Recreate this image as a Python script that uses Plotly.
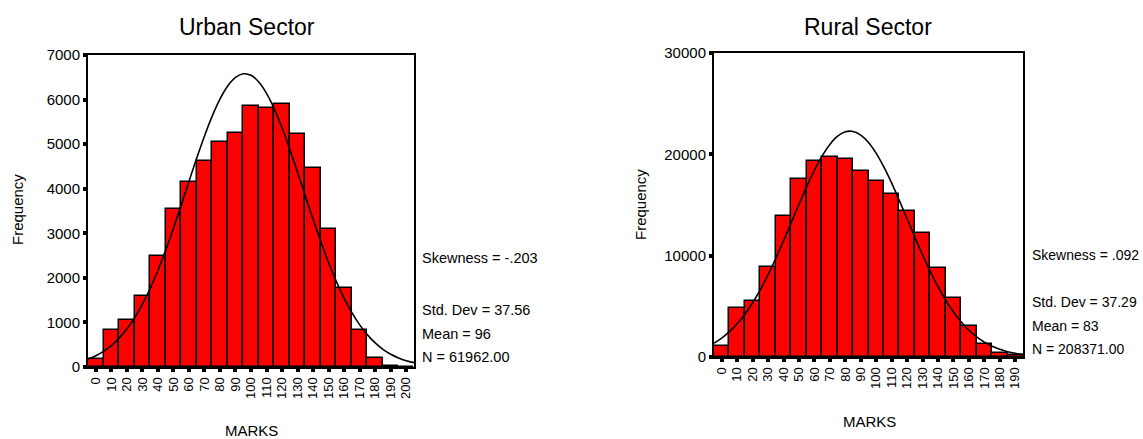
import plotly.graph_objects as go

# ---------------- data ----------------
urban_marks = [0, 10, 20, 30, 40, 50, 60, 70, 80, 90, 100, 110, 120, 130, 140, 150, 160, 170, 180, 190, 200]
urban_freq = [180, 820, 1050, 1590, 2490, 3540, 4140, 4630, 5040, 5260, 5860, 5820, 5910, 5220, 4460, 3090, 1770, 820, 200, 30, 5]
urban_curve_x = [-5, 0, 5, 10, 15, 20, 25, 30, 35, 40, 45, 50, 55, 60, 65, 70, 75, 80, 85, 90, 95, 100,
                 105, 110, 115, 120, 125, 130, 135, 140, 145, 150, 155, 160, 165, 170, 175, 180, 185, 190, 195, 200, 205]
urban_curve_y = [177, 251, 350, 479, 644, 850, 1102, 1406, 1760, 2166, 2617, 3109, 3626, 4159, 4684, 5179, 5629,
                 6011, 6305, 6497, 6579, 6544, 6395, 6140, 5791, 5366, 4885, 4369, 3839, 3314, 2810, 2340, 1916,
                 1541, 1218, 945, 721, 540, 397, 287, 204, 142, 98]
urban_stats = ["Skewness = -.203", "Std. Dev = 37.56", "Mean = 96", "N = 61962.00"]

rural_marks = [0, 10, 20, 30, 40, 50, 60, 70, 80, 90, 100, 110, 120, 130, 140, 150, 160, 170, 180, 190]
rural_freq = [1090, 4790, 5510, 8910, 13960, 17590, 19310, 19740, 19570, 18380, 17390, 16110, 14360, 12280,
              8750, 5870, 3040, 1320, 400, 150]
rural_curve_x = [-5, 0, 5, 10, 15, 20, 25, 30, 35, 40, 45, 50, 55, 60, 65, 70, 75, 80, 85, 90, 95, 100,
                 105, 110, 115, 120, 125, 130, 135, 140, 145, 150, 155, 160, 165, 170, 175, 180, 185, 190, 195]
rural_curve_y = [1375, 1872, 2500, 3281, 4226, 5352, 6654, 8120, 9739, 11466, 13266, 15070, 16816, 18430, 19841,
                 20978, 21787, 22221, 22261, 21903, 21167, 20093, 18733, 17155, 15429, 13630, 11826, 10076, 8433,
                 6933, 5598, 4439, 3458, 2644, 1986, 1467, 1063, 756, 528, 363, 245]
rural_stats = ["Skewness = .092", "Std. Dev = 37.29", "Mean = 83", "N = 208371.00"]

urban_yticks = [0, 1000, 2000, 3000, 4000, 5000, 6000, 7000]
rural_yticks = [0, 10000, 20000, 30000]

# ---------------- figure ----------------
W, H = 1143, 439
FONT = "Liberation Sans, Arial, sans-serif"
RED = "#FF0000"

fig = go.Figure()

fig.add_trace(go.Bar(x=urban_marks, y=urban_freq, width=10, marker=dict(color=RED, line=dict(color="black", width=1.5)),
                     xaxis="x", yaxis="y", showlegend=False))
fig.add_trace(go.Scatter(x=urban_curve_x, y=urban_curve_y, mode="lines", line=dict(color="black", width=1.6, shape="spline"),
                         xaxis="x", yaxis="y", showlegend=False))
fig.add_trace(go.Bar(x=rural_marks, y=rural_freq, width=10, marker=dict(color=RED, line=dict(color="black", width=1.5)),
                     xaxis="x2", yaxis="y2", showlegend=False))
fig.add_trace(go.Scatter(x=rural_curve_x, y=rural_curve_y, mode="lines", line=dict(color="black", width=1.6, shape="spline"),
                         xaxis="x2", yaxis="y2", showlegend=False))


def px_x(v):
    return v / W


def px_y(v):
    return 1 - v / H


common_x = dict(showgrid=False, zeroline=False, showline=True, linecolor="black", linewidth=2, mirror=True,
                ticks="outside", ticklen=3, tickwidth=4, tickcolor="black", tickangle=-90,
                tickfont=dict(family=FONT, size=13, color="black"))
common_y = dict(showgrid=False, zeroline=False, showline=True, linecolor="black", linewidth=2, mirror=True,
                ticks="outside", ticklen=3, tickwidth=4, tickcolor="black",
                tickfont=dict(family=FONT, size=15, color="black"))

fig.update_layout(
    width=W, height=H, margin=dict(l=0, r=0, t=0, b=0, autoexpand=False),
    paper_bgcolor="white", plot_bgcolor="white", bargap=0,
    xaxis=dict(domain=[px_x(88), px_x(414)], range=[-5, 205], anchor="y",
               tickvals=urban_marks, ticktext=[str(v) for v in urban_marks], **common_x),
    yaxis=dict(domain=[px_y(367), px_y(55)], range=[0, 7000], anchor="x",
               tickvals=urban_yticks, ticktext=[str(v) for v in urban_yticks], **common_y),
    xaxis2=dict(domain=[px_x(714), px_x(1023)], range=[-5, 195], anchor="y2",
                tickvals=rural_marks, ticktext=[str(v) for v in rural_marks], **common_x),
    yaxis2=dict(domain=[px_y(357), px_y(53)], range=[0, 30000], anchor="x2",
                tickvals=rural_yticks, ticktext=[str(v) for v in rural_yticks], **common_y),
)

ann = []


def text(x, y, s, size=15, xanchor="center", angle=0):
    ann.append(dict(x=px_x(x), y=px_y(y), xref="paper", yref="paper", text=s, showarrow=False,
                    xanchor=xanchor, yanchor="middle", textangle=angle,
                    font=dict(family=FONT, size=size, color="black")))


# titles
text(247, 27, "Urban Sector", size=23)
text(868, 27, "Rural Sector", size=23)
# axis titles
text(18, 210, "Frequency", angle=-90)
text(640, 205, "Frequency", angle=-90)
text(251, 430, "MARKS")
text(869, 421, "MARKS")
# stats
for s, yy in zip(urban_stats, [258, 310, 334, 357]):
    text(420, yy, s, size=14.5, xanchor="left")
for s, yy in zip(rural_stats, [255, 302, 326, 349]):
    text(1030, yy, s, size=14, xanchor="left")

fig.update_layout(annotations=ann)
fig.write_html("out.html", config={"displayModeBar": False},
               post_script="document.documentElement.style.margin='0';document.body.style.margin='0';"
                           "document.body.style.padding='0';document.body.style.overflow='hidden';")
